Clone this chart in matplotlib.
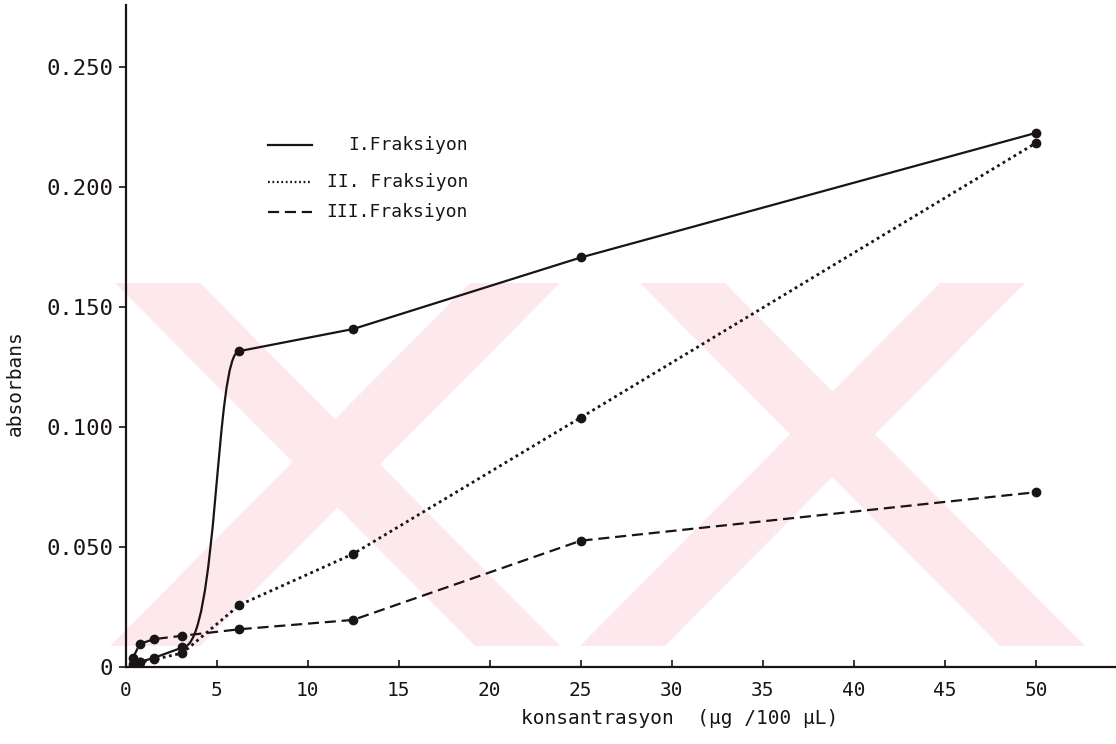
import matplotlib
matplotlib.use("Agg")
import matplotlib.pyplot as plt
from matplotlib.path import Path
from matplotlib.patches import PathPatch, Polygon

plt.rcParams['font.family'] = ['DejaVu Sans Mono', 'DejaVu Sans']

# ---- data ----
konsantrasyon = [0.39, 0.78, 1.56, 3.125, 6.25, 12.5, 25, 50]
fraksiyon_1 = [0.0010, 0.0020, 0.0037, 0.0080, 0.1315, 0.1407, 0.1705, 0.2224]
fraksiyon_2 = [0.0000, 0.0020, 0.0030, 0.0057, 0.0257, 0.0470, 0.1038, 0.2182]
fraksiyon_3 = [0.0035, 0.0095, 0.0115, 0.0129, 0.0156, 0.0195, 0.0525, 0.0727]

legend_labels = ["I.Fraksiyon", "II. Fraksiyon", "III.Fraksiyon"]
xticks = [0, 5, 10, 15, 20, 25, 30, 35, 40, 45, 50]
yticks = [0, 0.05, 0.10, 0.15, 0.20, 0.25]
ytick_labels = ["0", "0.050", "0.100", "0.150", "0.200", "0.250"]
xlabel = "konsantrasyon  (µg /100 µL)"
ylabel = "absorbans"

W, H = 1116, 744
fig = plt.figure(figsize=(W / 100, H / 100), dpi=100)

# ---- faint watermark (decoration, figure pixel coords) ----
pink = "#fde9ed"
def px(pts):
    return [(x / W, 1 - y / H) for x, y in pts]
wm_polys = [
    [(115, 283), (200, 283), (560, 646), (475, 646)],
    [(470, 283), (560, 283), (200, 646), (110, 646)],
    [(640, 283), (725, 283), (1085, 646), (1000, 646)],
    [(940, 283), (1025, 283), (665, 646), (580, 646)],
]
for poly in wm_polys:
    fig.patches.append(Polygon(px(poly), closed=True, transform=fig.transFigure,
                               facecolor=pink, edgecolor="none", zorder=-10))

ax = fig.add_axes([125.6 / W, 1 - 666.7 / H, (W - 125.6) / W, (666.7 - 5) / H])
ax.set_zorder(5)
ax.patch.set_alpha(0)
ax.set_xlim(0, 54.4)
ax.set_ylim(0, 0.2757)

ink = "#1a1414"

# Series I: straight segments with a smooth S-shaped rise between 3.125 and 6.25
x1, y1 = konsantrasyon, fraksiyon_1
verts = [(x1[0], y1[0])]
codes = [Path.MOVETO]
for i in range(1, len(x1)):
    if i == 4:
        dx = x1[4] - x1[3]
        verts += [(x1[3] + 0.63 * dx, y1[3]), (x1[3] + 0.57 * dx, y1[4]), (x1[4], y1[4])]
        codes += [Path.CURVE4] * 3
    else:
        verts.append((x1[i], y1[i]))
        codes.append(Path.LINETO)
ax.add_patch(PathPatch(Path(verts, codes), fill=False, edgecolor=ink, lw=1.6,
                       transform=ax.transData, zorder=3))
ax.plot(x1, y1, ls="none", marker="o", ms=6, color=ink, zorder=4)

ax.plot(konsantrasyon, fraksiyon_2, ls=(0, (1.0, 1.3)), lw=2.0, color=ink,
        marker="o", ms=6, zorder=3)
ax.plot(konsantrasyon, fraksiyon_3, ls=(0, (5, 2.6)), lw=1.6, color=ink,
        marker="o", ms=6, zorder=3)

# ---- legend (manual, right-aligned text) ----
styles = [dict(ls="-", lw=1.6), dict(ls=(0, (0.8, 1.2)), lw=1.6), dict(ls=(0, (5, 2.6)), lw=1.6)]
rows_px = [145, 182, 212]
for lab, st, ry in zip(legend_labels, styles, rows_px):
    ya = (666.7 - ry) / (666.7 - 5)
    xa0 = (268 - 125.6) / (W - 125.6)
    xa1 = (312 - 125.6) / (W - 125.6)
    ax.plot([xa0, xa1], [ya, ya], transform=ax.transAxes, color=ink, **st)
    ax.text((468 - 125.6) / (W - 125.6), ya, lab, transform=ax.transAxes,
            ha="right", va="center", fontsize=13, color=ink)

# ---- axes styling ----
for s in ("top", "right"):
    ax.spines[s].set_visible(False)
for s in ("left", "bottom"):
    ax.spines[s].set_linewidth(1.6)
    ax.spines[s].set_color(ink)
ax.set_xticks(xticks)
ax.set_xticklabels([str(t) for t in xticks])
ax.set_yticks(yticks)
ax.set_yticklabels(ytick_labels)
ax.tick_params(axis="x", direction="in", length=5, width=1.2, pad=10,
               labelsize=14, colors=ink)
ax.tick_params(axis="y", direction="out", length=5, width=1.2, pad=4,
               labelsize=16, colors=ink)

ax.set_xlabel(xlabel, fontsize=14, color=ink)
ax.xaxis.set_label_coords((680 - 125.6) / (W - 125.6), -(719 - 666.7) / (666.7 - 5))
ax.xaxis.label.set_va("center")
ax.set_ylabel(ylabel, fontsize=14, color=ink)
ax.yaxis.set_label_coords((15 - 125.6) / (W - 125.6), (666.7 - 383) / (666.7 - 5))
ax.yaxis.label.set_va("center")

fig.savefig("out.png", dpi=100)
